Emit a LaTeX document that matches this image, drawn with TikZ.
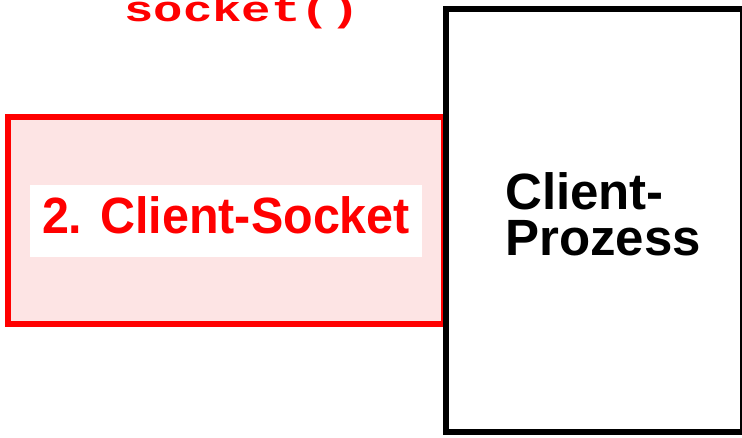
\documentclass[tikz,border=0pt]{standalone}
\usepackage{fontspec}
\setmainfont{Liberation Sans}
\newfontfamily\monofont{Liberation Mono}
\definecolor{sockred}{RGB}{255,0,0}
\definecolor{sockpink}{RGB}{253,228,228}
\tikzset{
  frame/.style={draw, line width=6pt, inner sep=0pt, outer sep=0pt},
  bigtext/.style={font=\fontsize{51}{46}\selectfont\bfseries, inner sep=0pt},
}
\begin{document}
\begin{tikzpicture}[x=1pt,y=-1pt]
\useasboundingbox (0,0) rectangle (742,437);
\node[frame, draw=sockred, fill=sockpink, minimum width=436pt, minimum height=206.5pt] (sockbox) at (226,220.25) {};
\node[frame, draw=black, fill=white, minimum width=297pt, minimum height=422.5pt] (proc) at (594.5,220.25) {};
\node[fill=white, inner sep=0pt, minimum width=392pt, minimum height=72pt] (lblbg) at (226,221) {};
\node[bigtext, text=sockred, anchor=base] (lbl) at (226,233) {\scalebox{0.95}[1]{2. Client-Socket}};
\node[bigtext, text=black, anchor=base west, align=left] (proctxt) at (505,255) {Client-\\Prozess};
\node[inner sep=0pt, anchor=base, text=sockred] (call) at (242,21) {\scalebox{1.36}[1]{\fontsize{36}{36}\monofont\bfseries socket()}};
\end{tikzpicture}
\end{document}
